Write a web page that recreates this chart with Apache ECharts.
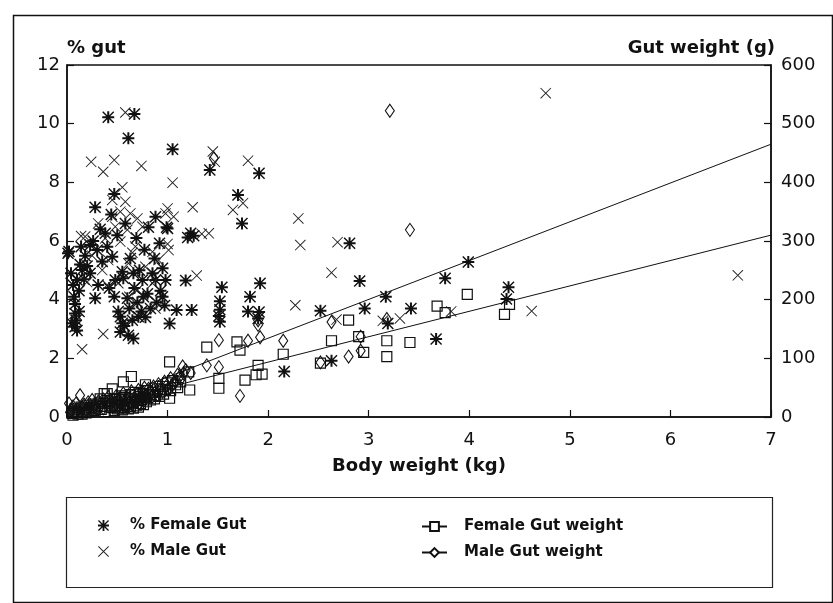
<!DOCTYPE html>
<html>
<head>
<meta charset="utf-8">
<script src="https://cdn.jsdelivr.net/npm/echarts@6/dist/echarts.min.js"></script>
<style>
html,body{margin:0;padding:0;background:#fff;}
#chart{width:833px;height:603px;}
</style>
</head>
<body>
<div id="chart"></div>
<script>
// ---- data ----
// x: body weight (kg); y: % gut (left axis)
var femalePct = [
  [0.41,10.22],[0.67,10.33],[0.61,9.50],[1.05,9.13],[1.42,8.42],[1.91,8.31],[0.47,7.60],[1.70,7.57],
  [1.74,6.60],[0.28,7.15],[0.88,6.83],[0.99,6.47],[0.81,6.47],[1.23,6.26],[1.20,6.12],[1.26,6.18],
  [0.92,5.92],[1.18,4.65],[1.54,4.42],[1.92,4.56],[1.82,4.10],[1.52,3.95],[1.52,3.66],[1.51,3.44],
  [1.09,3.65],[1.24,3.65],[1.02,3.19],[1.52,3.25],[1.80,3.60],[1.91,3.58],[1.90,3.36],[0.66,2.68],
  [2.81,5.92],[2.91,4.64],[3.99,5.28],[3.76,4.73],[3.17,4.10],[2.52,3.62],[2.96,3.70],[3.42,3.70],
  [4.39,4.42],[4.37,4.02],[3.67,2.66],[2.16,1.55],[2.63,1.92],[3.19,3.19],
  [0.02,5.64],[0.01,5.58],[0.04,4.90],[0.06,4.50],[0.07,4.10],[0.08,3.85],[0.08,3.53],[0.09,3.30],
  [0.08,3.08],[0.10,2.95],[0.05,3.20],[0.10,4.67],[0.12,4.30],[0.13,5.20],[0.15,5.01],[0.17,4.70],
  [0.18,5.50],[0.20,5.15],[0.23,5.86],[0.23,4.90],[0.26,6.00],[0.28,4.05],[0.30,5.69],[0.31,4.50],
  [0.33,6.40],[0.35,5.30],[0.38,6.26],[0.40,5.80],[0.42,4.40],[0.44,6.90],[0.45,5.46],[0.47,4.10],
  [0.48,4.67],[0.50,6.20],[0.51,3.60],[0.53,3.42],[0.53,2.90],[0.55,4.95],[0.56,4.73],[0.57,3.10],
  [0.58,6.60],[0.60,4.05],[0.61,2.79],[0.62,3.70],[0.63,5.40],[0.65,3.30],[0.67,4.40],[0.69,6.10],
  [0.70,3.90],[0.71,3.42],[0.72,5.00],[0.74,3.60],[0.75,4.67],[0.77,5.70],[0.78,3.40],[0.80,4.20],
  [0.83,3.70],[0.85,4.90],[0.87,5.40],[0.88,4.67],[0.89,3.90],[0.93,4.30],[0.95,5.07],[0.95,4.10],
  [0.97,3.80],[0.98,4.67],[1.00,6.43],[0.12,3.60],[0.14,5.80],[0.55,3.20],[0.66,4.90],[0.76,4.10]
];
var malePct = [
  [0.55,7.83],[0.45,7.40],[0.58,7.34],[0.53,7.00],[0.63,6.94],[0.45,6.83],[0.70,6.77],[0.31,6.60],
  [0.48,6.49],[0.60,6.38],[0.75,6.49],[0.18,6.15],[0.38,6.09],[0.53,5.98],[0.68,5.81],[0.85,5.63],
  [1.01,5.69],[0.98,6.94],[0.91,5.35],[0.78,5.12],[0.61,5.24],[0.41,5.35],[0.35,5.01],[0.51,4.56],
  [0.70,4.33],[0.85,4.56],[1.29,4.82],[1.41,6.26],[0.36,2.83],[0.15,2.31],[0.14,6.17],[1.00,7.11],
  [1.06,6.83],[1.34,6.24],[1.00,5.90],[0.24,8.70],[0.47,8.76],[0.36,8.36],[0.74,8.56],[1.05,7.99],
  [0.58,10.38],[1.45,9.05],[1.47,8.70],[1.80,8.74],[1.75,7.29],[1.65,7.06],[1.25,7.15],[0.65,5.60],
  [0.25,5.50],[0.20,4.60],[0.40,4.50],[0.62,4.10],[0.88,3.70],
  [2.30,6.77],[2.32,5.86],[2.69,5.96],[2.63,4.92],[2.27,3.81],[3.14,3.28],[3.31,3.36],[3.82,3.60],
  [2.68,3.32],[4.76,11.04],[6.67,4.83],[4.62,3.61]
];
// x: body weight (kg); y: gut weight (g, right axis)
var femaleWeight = [
  [1.39,119],[1.69,128],[1.72,114],[1.02,94],[0.64,69],[0.37,40],[0.78,55],[1.22,46],[1.21,77],
  [1.51,66],[1.51,49],[1.77,63],[1.88,72],[1.90,88],[1.94,73],[2.15,107],[2.52,92],[2.63,130],
  [2.80,165],[2.90,137],[2.95,110],[3.18,130],[3.18,103],[3.41,127],[3.68,189],[3.76,178],[3.98,209],
  [4.35,175],[4.40,192],[0.56,60],[1.02,32],
  [0.05,6],[0.07,10],[0.08,14],[0.10,8],[0.12,12],[0.14,17],[0.16,10],[0.18,14],[0.20,20],[0.22,12],
  [0.24,16],[0.26,22],[0.28,15],[0.30,19],[0.32,24],[0.35,18],[0.38,23],[0.40,28],[0.42,20],[0.45,26],
  [0.47,31],[0.48,18],[0.50,24],[0.52,30],[0.54,36],[0.55,20],[0.57,27],[0.58,33],[0.60,22],[0.62,29],
  [0.63,38],[0.65,25],[0.67,32],[0.68,42],[0.70,28],[0.72,35],[0.74,30],[0.76,40],[0.78,33],[0.80,45],
  [0.82,38],[0.85,42],[0.88,36],[0.90,48],[0.93,44],[0.95,52],[0.98,47],[1.00,58],[1.05,62],[1.08,55],
  [0.45,48],[0.40,40],[0.33,31],
  [0.50,14],[0.52,19],[0.55,12],[0.57,16],[0.59,21],[0.61,14],[0.63,18],[0.66,15],[0.69,20],[0.71,17],
  [0.73,23],[0.76,21],[0.79,26],[0.83,29],[0.87,31],[0.92,35],[0.96,39],[1.03,45],[1.10,50],[1.13,60],
  [0.15,5],[0.21,8],[0.27,11],[0.34,13],[0.44,16],[0.06,3],[0.11,5],[0.19,7],[0.38,9],[0.47,11]
];
var maleWeight = [
  [3.21,522],[3.41,319],[1.46,441],[2.15,130],[2.63,162],[2.80,103],[2.92,113],[2.92,137],[3.18,167],
  [1.90,157],[1.90,165],[1.51,131],[1.80,130],[1.92,136],[1.39,88],[1.15,86],[1.72,36],[1.51,85],
  [1.23,75],[2.52,93],
  [0.03,8],[0.04,12],[0.06,18],[0.08,9],[0.09,23],[0.11,13],[0.13,37],[0.15,16],[0.17,21],[0.19,12],
  [0.21,25],[0.23,17],[0.25,29],[0.27,20],[0.29,14],[0.31,26],[0.34,21],[0.36,30],[0.39,25],[0.41,34],
  [0.43,22],[0.46,29],[0.49,36],[0.51,26],[0.53,33],[0.56,40],[0.59,30],[0.61,36],[0.64,44],[0.66,28],
  [0.69,38],[0.71,46],[0.73,32],[0.75,43],[0.77,50],[0.79,37],[0.81,48],[0.84,40],[0.86,52],[0.89,45],
  [0.91,56],[0.94,50],[0.97,60],[0.99,53],[1.03,66],[1.06,58],[1.10,72],[1.13,64],[1.18,80],[0.02,23],
  [0.51,17],[0.54,23],[0.58,19],[0.62,25],[0.65,21],[0.68,27],[0.72,24],[0.77,29],[0.81,33],[0.85,35],
  [0.90,38],[0.95,43],[1.00,47],[1.04,53],[1.08,60],[1.12,69],[1.16,74],[0.36,15],[0.42,18],[0.47,21]
];
// fitted lines (end points)
var femaleFit = [[0, 7], [7, 310]];
var maleFit = [[0, 2], [7, 465]];
var xTicks = {min: 0, max: 7, step: 1};
var pctTicks = {min: 0, max: 12, step: 2};
var gTicks = {min: 0, max: 600, step: 100};

var FONT = 'DejaVu Sans';
var ASTERISK = 'path://M5 0h2v12h-2Z M0 5h12v2h-12Z M0 1L1 0L12 11L11 12Z M11 0L12 1L1 12L0 11Z';
var CROSS = 'path://M0 0.6L0.6 0L10 9.4L9.4 10Z M9.4 0L10 0.6L0.6 10L0 9.4Z';

var chart = echarts.init(document.getElementById('chart'), null, {renderer: 'canvas'});
var axisLine = {show: true, lineStyle: {color: '#111', width: 1.5}};
var axisTick = {show: true, inside: true, length: 7, lineStyle: {color: '#111', width: 1.2}};
var tickLabel = {color: '#111', fontFamily: FONT, fontSize: 18};

chart.setOption({
  animation: false,
  backgroundColor: '#fff',
  grid: {left: 67, right: 62, top: 65, bottom: 186, show: true, borderColor: '#111', borderWidth: 1.5, backgroundColor: 'transparent'},
  xAxis: {
    type: 'value', min: xTicks.min, max: xTicks.max, interval: xTicks.step,
    axisLine: axisLine, axisTick: axisTick, splitLine: {show: false},
    axisLabel: Object.assign({margin: 14}, tickLabel),
    name: 'Body weight (kg)', nameLocation: 'middle', nameGap: 40,
    nameTextStyle: {color: '#111', fontFamily: FONT, fontSize: 18, fontWeight: 'bold'}
  },
  yAxis: [{
    type: 'value', position: 'left', min: pctTicks.min, max: pctTicks.max, interval: pctTicks.step,
    axisLine: axisLine, axisTick: axisTick, splitLine: {show: false},
    axisLabel: Object.assign({margin: 7}, tickLabel),
    name: '% gut', nameLocation: 'end', nameGap: 8,
    nameTextStyle: {color: '#111', fontFamily: FONT, fontSize: 18, fontWeight: 'bold', align: 'left'}
  }, {
    type: 'value', position: 'right', min: gTicks.min, max: gTicks.max, interval: gTicks.step,
    axisLine: axisLine, axisTick: axisTick, splitLine: {show: false},
    axisLabel: Object.assign({margin: 10}, tickLabel),
    name: 'Gut weight (g)', nameLocation: 'end', nameGap: 8,
    nameTextStyle: {color: '#111', fontFamily: FONT, fontSize: 18, fontWeight: 'bold', align: 'right', padding: [0, -4, 0, 0]}
  }],
  legend: [{
    data: ['% Female Gut', '% Male Gut'], orient: 'vertical', left: 93, top: 513,
    itemWidth: 11, itemHeight: 11, itemGap: 11, selectedMode: false,
    textStyle: {color: '#111', fontFamily: FONT, fontSize: 15, fontWeight: 'bold', padding: [0, 0, 0, 16]}
  }, {
    data: ['Female Gut weight', 'Male Gut weight'], orient: 'vertical', left: 416, top: 514,
    itemWidth: 25, itemHeight: 11, itemGap: 11, selectedMode: false,
    textStyle: {color: '#111', fontFamily: FONT, fontSize: 15, fontWeight: 'bold', padding: [0, 0, 0, 12]}
  }],
  graphic: [
    {type: 'rect', left: 11, top: 13, shape: {width: 819, height: 587}, style: {fill: 'none', stroke: '#111', lineWidth: 1.5}, silent: true},
    {type: 'rect', left: 64, top: 495, shape: {width: 706, height: 90}, style: {fill: 'none', stroke: '#222', lineWidth: 1.2}, silent: true}
  ],
  series: [
    {name: 'Female Gut weight', type: 'line', yAxisIndex: 1, data: femaleFit, showSymbol: false,
     symbol: 'rect', symbolSize: 8, lineStyle: {color: '#111', width: 1},
     itemStyle: {color: '#fff', borderColor: '#111', borderWidth: 1}, z: 3},
    {name: 'Male Gut weight', type: 'line', yAxisIndex: 1, data: maleFit, showSymbol: false,
     symbol: 'diamond', symbolSize: 8, lineStyle: {color: '#111', width: 1},
     itemStyle: {color: '#fff', borderColor: '#111', borderWidth: 1}, z: 3},
    {name: '% Female Gut', type: 'scatter', yAxisIndex: 0, data: femalePct, symbol: ASTERISK,
     symbolSize: 12, itemStyle: {color: '#111', opacity: 1}},
    {name: '% Male Gut', type: 'scatter', yAxisIndex: 0, data: malePct, symbol: CROSS,
     symbolSize: 11, itemStyle: {color: '#222', opacity: 1}},
    {name: 'Female Gut weight', type: 'scatter', yAxisIndex: 1, data: femaleWeight, symbol: 'rect',
     symbolSize: 10, itemStyle: {color: 'rgba(0,0,0,0)', borderColor: '#111', borderWidth: 1.2, opacity: 1}},
    {name: 'Male Gut weight', type: 'scatter', yAxisIndex: 1, data: maleWeight, symbol: 'diamond',
     symbolSize: [9, 13], itemStyle: {color: 'rgba(0,0,0,0)', borderColor: '#111', borderWidth: 1.1, opacity: 1}}
  ]
});
</script>
</body>
</html>
